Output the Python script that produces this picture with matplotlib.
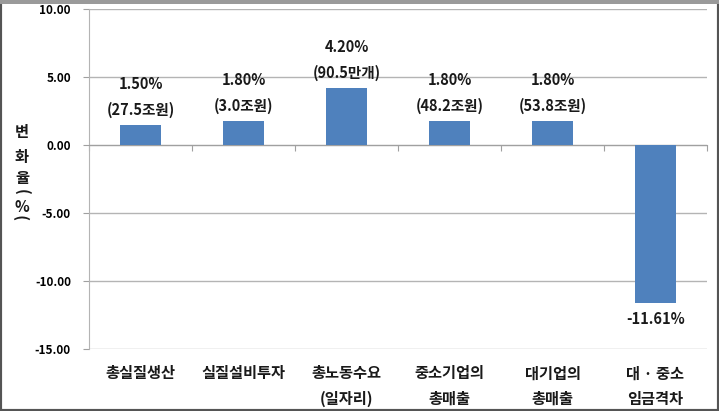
import matplotlib
matplotlib.use("Agg")
import matplotlib.pyplot as plt
from matplotlib.patches import Rectangle
import matplotlib.transforms as mtransforms

plt.rcParams['font.family'] = ['Noto Sans CJK KR', 'DejaVu Sans']

categories = ["총실질생산", "실질설비투자", "총노동수요\n(일자리)", "중소기업의\n총매출", "대기업의\n총매출", "대 · 중소\n임금격차"]
values = [1.50, 1.80, 4.20, 1.80, 1.80, -11.61]
annotations = ["1.50%\n(27.5조원)", "1.80%\n(3.0조원)", "4.20%\n(90.5만개)", "1.80%\n(48.2조원)", "1.80%\n(53.8조원)", "-11.61%"]
yticks = [10, 5, 0, -5, -10, -15]
ylabel_chars = ["변", "화", "율", "(", "%", ")"]

fig = plt.figure(figsize=(7.19, 4.11), dpi=100)
ax = fig.add_axes([89/719, 1 - 349/411, (707-89)/719, (349-9)/411])

x = list(range(len(categories)))
ax.bar(x, values, width=0.39, color='#4F81BD', zorder=3)

ax.set_xlim(-0.5, len(categories) - 0.5)
ax.set_ylim(-15, 10)
ax.set_yticks(yticks)
ax.set_yticklabels([f"{v:.2f}" for v in yticks], fontsize=8.5, fontweight='bold')
ax.yaxis.grid(True, color='#b4b4b4', linewidth=1.0, zorder=0)
ax.set_axisbelow(True)

for s in ['top', 'right']:
    ax.spines[s].set_visible(False)
ax.spines['left'].set_color('#b4b4b4')
ax.spines['bottom'].set_position(('data', 0))
ax.spines['bottom'].set_color('#a0a0a0')
ax.tick_params(axis='y', length=4, color='#a0a0a0', pad=9)
ax.set_xticks([i - 0.5 for i in range(len(categories) + 1)])
ax.set_xticklabels([])
ax.tick_params(axis='x', length=4, color='#a0a0a0', direction='out')

trans = mtransforms.blended_transform_factory(ax.transData, ax.transAxes)
for i, c in enumerate(categories):
    ax.text(i, -0.048, c, transform=trans, ha='center', va='top', fontsize=11,
            fontweight='bold', linespacing=1.75, color='#1a1a1a')

for i, (v, a) in enumerate(zip(values, annotations)):
    if v >= 0:
        ax.annotate(a, (i, v), xytext=(0, 5), textcoords='offset points', ha='center', va='bottom',
                    fontsize=10.5, fontweight='bold', linespacing=1.75, color='#1a1a1a')
    else:
        ax.annotate(a, (i, v), xytext=(0, -6), textcoords='offset points', ha='center', va='top',
                    fontsize=10.5, fontweight='bold', color='#1a1a1a')

ypos = [132, 157, 178, 192, 207, 217]
for ch, yp in zip(ylabel_chars, ypos):
    rot = 90 if ch in "()" else 0
    fig.text(22/719, 1 - yp/411, ch, ha='center', va='center', fontsize=11,
             fontweight='bold', rotation=-rot if ch == "(" else rot, color='#1a1a1a')

fig.patches.append(Rectangle((0, 0), 1, 1, transform=fig.transFigure, fill=False,
                             edgecolor='#555555', linewidth=3))
fig.patches.append(Rectangle((0, 1 - 4/411), 1, 4/411, transform=fig.transFigure,
                             facecolor='#9a9a9a', edgecolor='none'))

fig.savefig("out.png", dpi=100)
